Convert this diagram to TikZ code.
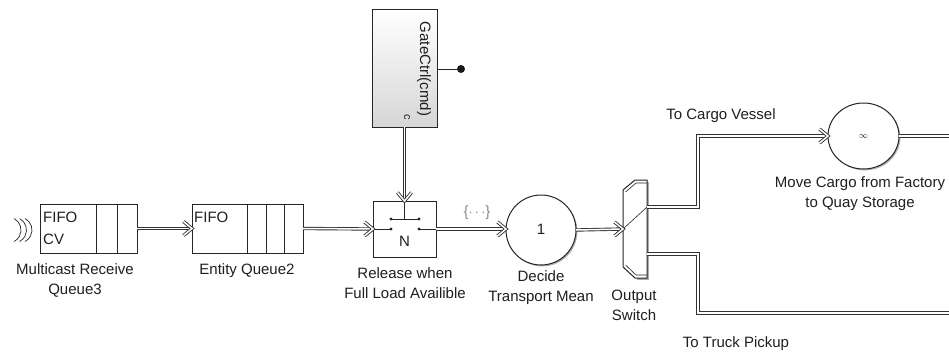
\documentclass[tikz,border=0pt]{standalone}
\usepackage{fontspec}
\setmainfont{Liberation Sans}
\usetikzlibrary{shadows,shapes.geometric}

\begin{document}
\begin{tikzpicture}[x=1pt,y=-1pt,
  lbl/.style={font=\fontsize{15}{20}\selectfont, align=center, inner sep=0pt, text=black!88},
  blk/.style={draw=black!85, line width=1pt, fill=white, outer sep=0pt,
    drop shadow={shadow xshift=1.4pt, shadow yshift=-1.4pt, fill=black!70, opacity=0.45}},
  ent/.style={draw=black!80, line width=0.9pt, double=white, double distance=1.5pt},
  entarrow/.style={ent, shorten >=2pt},
  chev/.pic={\draw[ent, line join=miter, miter limit=10] (-8.5,-7) -- (0,0) -- (-8.5,7);},
  wire/.style={draw=black!85, line width=0.6pt},
  pin/.style={circle, fill=black!85, inner sep=0pt, minimum size=3.2pt}
]
\useasboundingbox[fill=white] (0,0) rectangle (949,356);

% ---- blocks ----
\node[blk, minimum width=97pt, minimum height=49pt] (q3) at (88.5,228.5) {};
\node[blk, minimum width=111pt, minimum height=49pt] (q2) at (247.5,228.5) {};
\node[blk, minimum width=63pt, minimum height=56pt] (gate) at (404.5,229) {};
\node[blk, top color=white, bottom color=black!16, minimum width=65pt, minimum height=118pt] (ctrl) at (404.5,68) {};
\node[blk, circle, minimum size=70pt] (decide) at (541,230) {};
\node[blk, ellipse, minimum width=71pt, minimum height=66pt] (move) at (863.5,136) {};
\node[minimum width=24pt, minimum height=98pt, inner sep=0pt] (sw) at (635,229) {};

% queue slots
\draw[wire, line width=0.9pt] (96,204) -- (96,253) (117,204) -- (117,253);
\draw[wire, line width=0.9pt] (247,204) -- (247,253) (266,204) -- (266,253) (284,204) -- (284,253);
\node[lbl, anchor=base west] (q3fifo) at (43,222) {FIFO};
\node[lbl, anchor=base west] (q3cv) at (43,244) {CV};
\node[lbl, anchor=base west] (q2fifo) at (194,222) {FIFO};

% multicast receive symbol
\foreach \cx in {8,13.5,19}
  \draw[wire, line width=0.7pt] ([shift={(-62:13)}]\cx,230) arc[start angle=-62, end angle=62, radius=13];

% gate switch symbol
\draw[wire, line width=0.8pt] (gate.north) -- (404.5,219) (391,219) -- (419,219);
\draw[wire, line width=0.8pt] (gate.west |- 0,229) -- (391,229) (419,229) -- (gate.east |- 0,229);
\foreach \p in {(391,219),(419,219),(391,229),(419,229)}
  \node[pin] at \p {};
\node[lbl] (gaten) at (404.5,241) {N};

% gate control block
\node[lbl, rotate=-90] (ctrltxt) at (424,69) {GateCtrl(cmd)};
\node[lbl, rotate=-90, font=\fontsize{11}{12}\selectfont] (ctrlc) at (407,117) {c};
\node[circle, fill=black!90, inner sep=0pt, minimum size=8pt] (dot) at (461,69) {};
\draw[wire, line width=0.8pt] (ctrl.east |- dot) -- (dot);

% circle contents
\node[lbl] (one) at (541,229) {1};
\node[lbl, font=\fontsize{9}{10}\selectfont] (inf) at (863.5,137) {$\infty$};

% output switch body
\fill[black!55, opacity=0.6] (636.5,181.5) -- (648.6,181.5) -- (648.6,279.5) -- (636.5,279.5) -- cycle;
\draw[draw=black!85, line width=1pt, fill=white] (635,180) -- (647,180) -- (647,278) -- (635,278) -- (623,267) -- (623,190) -- cycle;
\draw[wire] (647,183) -- (636,183) -- (625.5,192);
\draw[wire] (647,275) -- (636,275) -- (625.5,265);
\coordinate (swin) at (623,229);
\coordinate (swo1) at (647,207);
\coordinate (swo2) at (647,254);
\draw[wire] (swin) -- (swo1);

% ---- connectors ----
\coordinate (jx) at (698,0);
\coordinate (cargoend) at (955,136);
\coordinate (truckend) at (955,313);
\coordinate (decin) at (gate.east -| decide.west);
\draw[entarrow] (q3.east) -- (q2.west);
\draw[entarrow] (q2.east) -- (gate.west);
\draw[entarrow] (ctrl.south) -- (gate.north);
\draw[entarrow] (gate.east) -- (decin);
\draw[entarrow] (decide.east) -- (swin);
\draw[entarrow] (swo1) -- (swo1 -| jx) |- (move.west);
\draw[ent] (swo2) -- (swo2 -| jx) |- (truckend);
\draw[ent] (move.east) -- (cargoend);

% entity port chevrons
\pic at (q2.west) {chev};
\pic at (gate.west) {chev};
\pic[rotate=-90] at (gate.north) {chev};
\pic at (decin) {chev};
\pic at (swin) {chev};
\pic at (move.west) {chev};

% ---- labels ----
\node[lbl] (lq3) at (75,280) {Multicast Receive\\Queue3};
\node[lbl] (lq2) at (247,271) {Entity Queue2};
\node[lbl] (lgate) at (405,283) {Release when\\Full Load Availible};
\node[lbl] (ldecide) at (541,288) {Decide\\Transport Mean};
\node[lbl] (lsw) at (634,305) {Output\\Switch};
\node[lbl] (lmove) at (860,194) {Move Cargo from Factory\\to Quay Storage};
\node[lbl] (lcargo) at (721,116) {To Cargo Vessel};
\node[lbl] (ltruck) at (736,344) {To Truck Pickup};
\node[lbl, text=black!45, font=\fontsize{15}{16}\selectfont] (lbus) at (477,213) {\{$\cdots$\}};
\end{tikzpicture}
\end{document}
